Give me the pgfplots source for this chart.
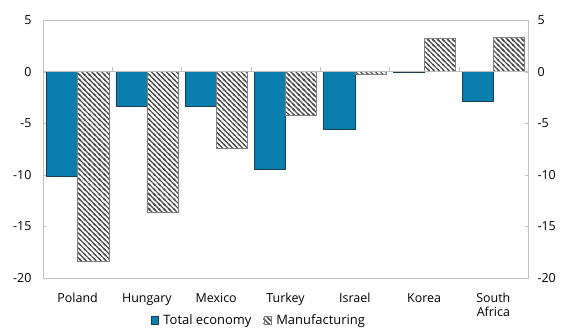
\documentclass[border=0pt]{standalone}
\usepackage{pgfplots}
\pgfplotsset{compat=1.18}
\usetikzlibrary{patterns}
\usepackage{fontspec}
\setmainfont{Open Sans}
\definecolor{barblue}{HTML}{0A7FAD}
\definecolor{baredge}{HTML}{1B3F52}
\definecolor{framegray}{HTML}{BFBFBF}
\pgfdeclarepatternformonly{mystripes}{\pgfqpoint{-1pt}{-1pt}}{\pgfqpoint{6pt}{6pt}}{\pgfqpoint{5pt}{5pt}}{%
  \pgfsetlinewidth{1.2pt}%
  \pgfpathmoveto{\pgfqpoint{-0.5pt}{5.5pt}}\pgfpathlineto{\pgfqpoint{5.5pt}{-0.5pt}}%
  \pgfpathmoveto{\pgfqpoint{-1pt}{1pt}}\pgfpathlineto{\pgfqpoint{1pt}{-1pt}}%
  \pgfpathmoveto{\pgfqpoint{4pt}{6pt}}\pgfpathlineto{\pgfqpoint{6pt}{4pt}}%
  \pgfusepath{stroke}}
\begin{document}
\begin{tikzpicture}
\begin{axis}[
  scale only axis, width=485bp, height=258bp,
  ybar=0pt, bar width=0.45,
  xmin=-0.5, xmax=6.5, ymin=-20, ymax=5,
  xtick={0,1,2,3,4,5,6},
  xticklabels={Poland,Hungary,Mexico,Turkey,Israel,Korea,{South\\Africa}},
  xticklabel style={align=center, yshift=-12bp},
  x tick label style={font=\fontsize{12.5}{14}\selectfont},
  major x tick style={draw=none},
  ytick={-20,-15,-10,-5,0,5},
  ytick pos=left, tick align=inside,
  major tick length=3bp,
  y tick label style={font=\fontsize{12.5}{14}\selectfont, xshift=-8bp},
  /pgf/number format/assume math mode=true,
  axis line style={framegray},
  tick style={framegray},
  legend style={at={(0.445,-0.163)}, anchor=center, draw=none, legend columns=2,
    inner sep=0pt, outer sep=0pt, fill=none,
    font=\fontsize{13}{14}\selectfont,
    /tikz/every odd column/.append style={column sep=3bp},
    /tikz/every even column/.append style={column sep=10bp}},
  legend image code/.code={\draw[#1] (0cm,-0.13cm) rectangle (0.26cm,0.13cm);},
  clip=false,
]
\addplot[fill=barblue, draw=baredge] coordinates {(0,-10.1) (1,-3.35) (2,-3.35) (3,-9.45) (4,-5.55) (5,-0.05) (6,-2.85)};
\addplot[pattern=mystripes, pattern color=black!70, draw=gray] coordinates {(0,-18.4) (1,-13.6) (2,-7.4) (3,-4.2) (4,-0.25) (5,3.25) (6,3.35)};
\legend{Total economy, Manufacturing}
\draw[framegray] (axis cs:-0.5,0) -- (axis cs:6.5,0);
\pgfplotsinvokeforeach{0.5,1.5,2.5,3.5,4.5,5.5}{\draw[framegray] (axis cs:#1,0) -- (axis cs:#1,0.45);}
\coordinate (bl) at (rel axis cs:0,0);
\coordinate (tr) at (rel axis cs:1,1);
\end{axis}
\begin{axis}[
  scale only axis, width=485bp, height=258bp,
  xmin=-0.5, xmax=6.5, ymin=-20, ymax=5,
  hide x axis, axis y line*=right,
  ytick={-20,-15,-10,-5,0,5}, tick align=inside, major tick length=3bp,
  y tick label style={font=\fontsize{12.5}{14}\selectfont, xshift=6bp},
  /pgf/number format/assume math mode=true,
  axis line style={framegray}, tick style={framegray},
]
\addplot[draw=none] coordinates {(0,0)};
\end{axis}
\pgfresetboundingbox
\path[use as bounding box] ([shift={(-43bp,-51bp)}]bl) rectangle ([shift={(39bp,20bp)}]tr);
\end{tikzpicture}
\end{document}
